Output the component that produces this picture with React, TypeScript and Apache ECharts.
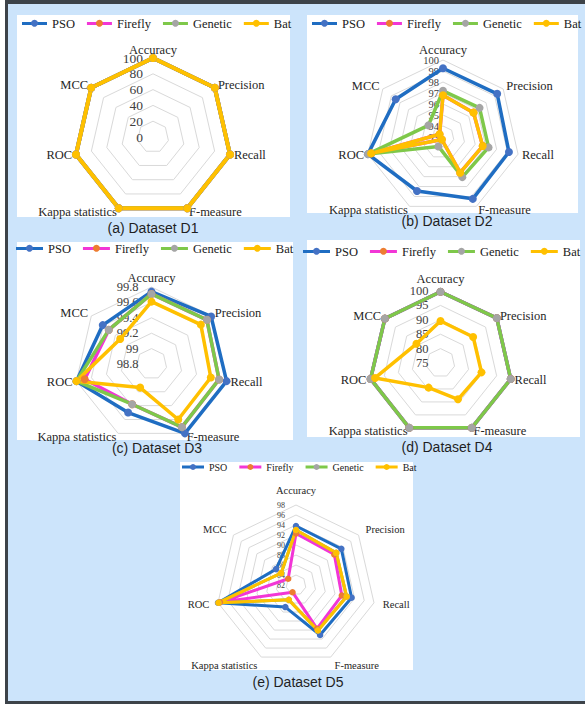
import React, { useEffect, useRef } from "react";
import * as echarts from "echarts";

// Evaluation metrics, in clockwise order starting from the top
const metrics = ["Accuracy", "Precision", "Recall", "F-measure", "Kappa statistics", "ROC", "MCC"];
const algorithms = ["PSO", "Firefly", "Genetic", "Bat"];
const lineColors = ["#1f6dc2", "#f236d6", "#7ec84a", "#ffc000"];
const markerColors = ["#4472c4", "#ed7d31", "#a5a5a5", "#ffc000"];

// Dataset D1
const d1Ticks = [0, 20, 40, 60, 80, 100];
const d1Pso = [100, 100, 100, 100, 100, 100, 100];
const d1Firefly = [100, 100, 100, 100, 100, 100, 100];
const d1Genetic = [100, 100, 100, 100, 100, 100, 100];
const d1Bat = [100, 100, 100, 100, 100, 100, 100];

// Dataset D2
const d2Ticks = [93, 94, 95, 96, 97, 98, 99, 100];
const d2Pso = [99.25, 99.3, 99.15, 99.24, 98.45, 100, 98.5];
const d2Firefly = [96.8, 96.55, 96.7, 96.6, 93.25, 99.7, 93.4];
const d2Genetic = [97.2, 97.25, 97.25, 97.05, 93.95, 100, 94.7];
const d2Bat = [96.8, 96.55, 96.7, 96.6, 93.25, 99.7, 93.4];

// Dataset D3
const d3Ticks = [98.8, 99, 99.2, 99.4, 99.6, 99.8];
const d3Pso = [99.74, 99.79, 99.8, 99.8, 99.5, 99.8, 99.61];
const d3Firefly = [99.71, 99.72, 99.7, 99.71, 99.38, 99.69, 99.51];
const d3Genetic = [99.71, 99.72, 99.7, 99.71, 99.38, 99.8, 99.51];
const d3Bat = [99.61, 99.62, 99.59, 99.6, 99.14, 99.8, 99.32];

// Dataset D4
const d4Ticks = [75, 80, 85, 90, 95, 100];
const d4Pso = [99.75, 100, 100, 100, 100, 99.9, 99.7];
const d4Firefly = [99.75, 100, 100, 100, 100, 99.9, 99.7];
const d4Genetic = [99.75, 100, 100, 100, 100, 99.9, 99.7];
const d4Bat = [89.6, 89.5, 89.6, 89.0, 84.5, 98.3, 85.7];

// Dataset D5
const d5Ticks = [82, 84, 86, 88, 90, 92, 94, 96, 98];
const d5Pso = [93.8, 93.6, 93.4, 93.1, 86.9, 98.0, 87.1];
const d5Firefly = [92.3, 91.8, 91.4, 91.7, 83.6, 97.6, 84.0];
const d5Genetic = [93.0, 92.3, 92.4, 92.1, 85.3, 97.9, 85.8];
const d5Bat = [93.0, 92.3, 92.4, 92.1, 85.3, 97.9, 85.8];

const SERIF = "'Liberation Serif', 'Times New Roman', serif";
const SANS = "'Liberation Sans', Arial, sans-serif";

type Panel = {
  caption: string;
  ticks: number[];
  values: number[][];
  box: [number, number, number, number];
  center: [number, number];
  radius: number;
  legendLeft: number;
  legendTop: number;
  legendSize: number;
  legendItemWidth: number;
  legendDot: number;
  nameSize: number;
  nameGap: number;
  topNameGap: number;
  tickSize: number;
  tickMargin: number;
  lineWidth: number;
  symbolSize: number;
  captionPos: [number, number];
};

const panels: Panel[] = [
  {
    caption: "(a) Dataset D1",
    ticks: d1Ticks,
    values: [d1Pso, d1Firefly, d1Genetic, d1Bat],
    box: [17, 15, 273, 202],
    center: [153, 137],
    radius: 79,
    legendLeft: 22,
    legendTop: 17,
    legendSize: 12.5,
    legendItemWidth: 25,
    legendDot: 3.5,
    nameSize: 12.5,
    nameGap: 4,
    topNameGap: 2,
    tickSize: 13.5,
    tickMargin: 10,
    lineWidth: 4,
    symbolSize: 8,
    captionPos: [153, 228],
  },
  {
    caption: "(b) Dataset D2",
    ticks: d2Ticks,
    values: [d2Pso, d2Firefly, d2Genetic, d2Bat],
    box: [307, 15, 271, 198],
    center: [443, 137],
    radius: 77,
    legendLeft: 312,
    legendTop: 17,
    legendSize: 12.5,
    legendItemWidth: 25,
    legendDot: 3.5,
    nameSize: 12.5,
    nameGap: 4,
    topNameGap: 4,
    tickSize: 10.5,
    tickMargin: 4,
    lineWidth: 3.5,
    symbolSize: 8,
    captionPos: [447, 221],
  },
  {
    caption: "(c) Dataset D3",
    ticks: d3Ticks,
    values: [d3Pso, d3Firefly, d3Genetic, d3Bat],
    box: [17, 242, 276, 198],
    center: [151.5, 364],
    radius: 77,
    legendLeft: 16,
    legendTop: 242,
    legendSize: 12.5,
    legendItemWidth: 27,
    legendDot: 3.5,
    nameSize: 12.5,
    nameGap: 4,
    topNameGap: 3,
    tickSize: 12.5,
    tickMargin: 13,
    lineWidth: 3.5,
    symbolSize: 8,
    captionPos: [157, 448],
  },
  {
    caption: "(d) Dataset D4",
    ticks: d4Ticks,
    values: [d4Pso, d4Firefly, d4Genetic, d4Bat],
    box: [307, 240, 273, 197],
    center: [440.5, 363],
    radius: 72,
    legendLeft: 303,
    legendTop: 245,
    legendSize: 12.5,
    legendItemWidth: 27,
    legendDot: 3.5,
    nameSize: 12.5,
    nameGap: 4,
    topNameGap: 6,
    tickSize: 12.5,
    tickMargin: 12,
    lineWidth: 3.5,
    symbolSize: 8,
    captionPos: [447, 447],
  },
  {
    caption: "(e) Dataset D5",
    ticks: d5Ticks,
    values: [d5Pso, d5Firefly, d5Genetic, d5Bat],
    box: [180, 462, 233, 208],
    center: [296, 585],
    radius: 80,
    legendLeft: 182,
    legendTop: 462,
    legendSize: 10,
    legendItemWidth: 22,
    legendDot: 3,
    nameSize: 10.5,
    nameGap: 9,
    topNameGap: 9,
    tickSize: 8,
    tickMargin: 11,
    lineWidth: 3,
    symbolSize: 6.5,
    captionPos: [298, 682],
  },
];

const LEGEND_GAP = 12;
const LEGEND_TEXT_OFFSET = 5; // ECharts puts legend text 5px after the icon

// ECharts places radar indicators counter-clockwise, so feed them in reverse after the first
const order = [0, 6, 5, 4, 3, 2, 1];

const tickFormat = (v: number) => String(parseFloat(Number(v).toFixed(2)));

function measure(text: string, size: number): number {
  const ctx = document.createElement("canvas").getContext("2d");
  if (!ctx) return text.length * size * 0.5;
  ctx.font = `normal normal ${size}px ${SERIF}`;
  return ctx.measureText(text).width;
}

function buildOption(): echarts.EChartsOption {
  const radar = panels.map((p) => ({
    center: p.center,
    radius: p.radius,
    startAngle: 90,
    shape: "polygon" as const,
    splitNumber: p.ticks.length - 1,
    nameMoveOverlap: false,
    indicator: order.map((k, j) => {
      const ind: any = {
        name: metrics[k],
        min: p.ticks[0],
        max: p.ticks[p.ticks.length - 1],
        nameMoveOverlap: false,
      };
      if (j === 0) {
        ind.axisLabel = { show: true };
        ind.nameGap = p.topNameGap;
      }
      return ind;
    }),
    axisName: { color: "#262626", fontFamily: SERIF, fontSize: p.nameSize },
    axisNameGap: p.nameGap,
    axisLine: { show: false },
    axisTick: { show: false },
    axisLabel: {
      show: false,
      color: "#404040",
      fontFamily: SERIF,
      fontSize: p.tickSize,
      margin: p.tickMargin,
      formatter: tickFormat,
    },
    splitLine: { lineStyle: { color: "#d9d9d9", width: 1 } },
    splitArea: { show: false },
  }));

  const series = panels.map((p, pi) => ({
    type: "radar" as const,
    radarIndex: pi,
    symbol: "circle",
    symbolSize: p.symbolSize,
    data: algorithms.map((name, i) => ({
      name,
      value: order.map((k) => p.values[i][k]),
      lineStyle: { color: lineColors[i], width: p.lineWidth },
      itemStyle: { color: markerColors[i] },
    })),
  }));

  const legend: any[] = panels.map((p) => ({
    left: p.legendLeft,
    top: p.legendTop,
    padding: 0,
    itemWidth: p.legendItemWidth,
    itemHeight: 3,
    itemGap: LEGEND_GAP,
    icon: "rect",
    selectedMode: false,
    orient: "horizontal",
    textStyle: { fontFamily: SERIF, fontSize: p.legendSize, color: "#1a1a1a" },
    data: algorithms.map((name, i) => ({
      name,
      itemStyle: { color: lineColors[i], borderWidth: 0 },
    })),
  }));

  const graphic: any[] = [
    { type: "rect", z: -20, shape: { x: 5, y: 0, width: 585, height: 704 }, style: { fill: "#3d4349" } },
    { type: "rect", z: -19, shape: { x: 8, y: 4, width: 590, height: 697 }, style: { fill: "#cce4fb" } },
  ];
  panels.forEach((p) => {
    graphic.push({
      type: "rect",
      z: -18,
      shape: { x: p.box[0], y: p.box[1], width: p.box[2], height: p.box[3] },
      style: { fill: "#ffffff" },
    });
    // marker dots sitting in the middle of each legend swatch
    let x = p.legendLeft;
    const cy = p.legendTop + p.legendSize / 2;
    algorithms.forEach((name, i) => {
      graphic.push({
        type: "circle",
        z: 20,
        shape: { cx: x + p.legendItemWidth / 2, cy, r: p.legendDot },
        style: { fill: markerColors[i] },
      });
      x += p.legendItemWidth + LEGEND_TEXT_OFFSET + measure(name, p.legendSize) + LEGEND_GAP;
    });
    graphic.push({
      type: "text",
      z: 10,
      x: p.captionPos[0],
      y: p.captionPos[1],
      style: {
        text: p.caption,
        fill: "#1f1f1f",
        fontFamily: SANS,
        fontSize: 14,
        align: "center",
        verticalAlign: "middle",
      },
    });
  });

  return {
    animation: false,
    backgroundColor: "#ffffff",
    graphic,
    legend,
    radar,
    series,
  } as any;
}

export default function App() {
  const ref = useRef<HTMLDivElement>(null);
  useEffect(() => {
    if (!ref.current) return;
    const chart = echarts.init(ref.current, null, { renderer: "svg" });
    chart.setOption(buildOption());
    return () => chart.dispose();
  }, []);
  return (
    <div
      ref={ref}
      style={{ position: "fixed", left: 0, top: 0, width: 585, height: 704 }}
    />
  );
}
